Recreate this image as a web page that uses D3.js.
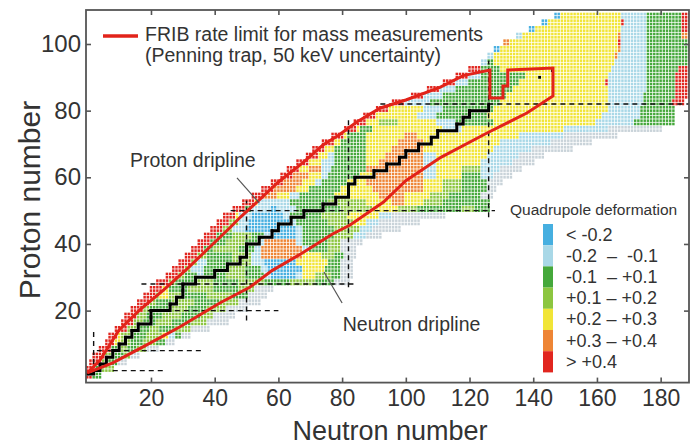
<!DOCTYPE html>
<html>
<head>
<meta charset="utf-8">
<script src="https://cdn.jsdelivr.net/npm/d3@7"></script>
<style>
body { margin: 0; background: #fff; }
svg { display: block; font-family: "Liberation Sans", Arial, sans-serif; }
</style>
</head>
<body>
<div id="plot"></div>
<script>
'use strict';

// colour classes of the quadrupole deformation
const classCodes = ['B', 'L', 'G', 'H', 'Y', 'O', 'R', 'S'];
const classColors = ['#46afe0', '#a9d8e7', '#45a83b', '#8cc640', '#f1e537', '#ee8535', '#e1261f', '#c9d3d9'];
const legendLabels = ['< -0.2', '-0.2  \u2013  -0.1', '-0.1  \u2013 +0.1', '+0.1 \u2013 +0.2', '+0.2 \u2013 +0.3', '+0.3 \u2013 +0.4', '> +0.4'];

// nuclide rows, two proton numbers per band: runs are "<class><first N>", last run ends at bandMax
const bandZ = [0, 2, 4, 6, 8, 10, 12, 14, 16, 18, 20, 22, 24, 26, 28, 30, 32, 34, 36, 38,
  40, 42, 44, 46, 48, 50, 52, 54, 56, 58, 60, 62, 64, 66, 68, 70, 72, 74, 76, 78,
  80, 82, 84, 86, 88, 90, 92, 94, 96, 98, 100, 102, 104, 106, 108];
const bandMax = [4, 8, 12, 16, 22, 27, 32, 38, 44, 46, 50, 54, 56, 58, 82, 83, 83, 83, 84, 84,
  86, 92, 98, 104, 112, 126, 126, 127, 128, 130, 133, 136, 140, 143, 152, 158, 166, 180, 184, 184,
  184, 187, 189, 189, 189, 189, 189, 189, 189, 189, 189, 189, 189, 189, 189];
const bandRuns = [
  'R0 G2',
  'R0 G3 H5',
  'R1 H5 G7 S10',
  'R2 H6 G8 H12 S14',
  'R4 G8 H10 G13 H16 S19',
  'R6 Y9 H11 G14 H18 G22 S25',
  'R7 Y10 H11 G15 H19 Y24 L26 G28 S30',
  'R9 H13 G16 H20 G23 H28 S33',
  'R11 H15 G18 H22 G27 H33 S38',
  'R12 H16 G19 H24 G30 H36 S40',
  'R14 H18 G20 H26 G32 H38 S44',
  'R16 H20 G22 H27 G34 H42 S48',
  'R18 H22 Y23 H26 G30 H38 G46 S51',
  'R20 Y24 G26 H32 G40 H48 S53',
  'R22 H26 G28 H34 G40 H48 G56 H64 G72 S78',
  'R25 H29 G31 L35 G37 H44 G50 L56 B58 L66 Y68 H72 G77 S80',
  'R27 H31 L33 G37 H44 G50 L55 B57 Y68 G75 S80',
  'R29 H33 L35 G38 H46 L52 B56 Y66 G76 S80',
  'R31 H35 G38 H46 L52 O55 Y68 H74 G78 S81',
  'R33 G37 H40 G48 L53 O55 L68 G70 H76 S80',
  'R35 G39 H44 G50 L54 O56 L66 G68 H76 S80',
  'R37 G41 H46 G52 L56 B58 L66 G68 H78 L84 S88',
  'R39 H43 L46 B50 L66 G68 H78 L86 S90',
  'R41 H45 L48 B51 L64 G66 H76 Y84 L88 S92',
  'R43 Y47 L48 B52 L62 G64 H74 Y82 L92 S96',
  'R46 G50 L52 B58 L60 G66 H80 Y90 H98 G104 H118 G122',
  'R49 Y53 L54 G64 H76 Y88 O96 Y100 H106 G112',
  'R52 O56 Y60 L64 G67 Y78 O92 Y100 H108 G114 S124',
  'R55 O59 Y66 G70 Y80 O90 Y106 H112 G118 S126',
  'R58 O62 Y68 L72 G74 Y82 O88 Y106 H112 G118 S126',
  'R61 O65 Y70 L74 G76 Y86 O90 L106 Y110 G118 L124 S128',
  'R63 Y67 O70 L74 G77 O88 L106 Y110 H118 L124 S130',
  'R66 Y70 L74 G78 Y88 O92 L106 Y110 L124 S134',
  'R69 Y73 L76 G78 Y88 O94 L106 Y110 L126 S136',
  'R71 Y75 G78 Y88 O96 Y106 L128 S140',
  'R74 Y78 G80 Y88 O98 Y106 L130 S146',
  'R77 Y81 G82 Y88 O100 Y104 L136 S150',
  'R81 Y85 G86 Y90 L112 Y118 L150 S164',
  'R84 Y88 H92 Y98 L110 G116 Y128 L160 G172',
  'R87 Y91 L104 G110 Y126 L162 G174',
  'R91 Y95 L106 G112 Y128 L164 G174',
  'R96 L100 G108 Y130 L164 G175 R184',
  'R102 L106 G112 Y132 L164 G175 R185',
  'R107 L111 G116 Y134 L164 G176 R185',
  'R112 L116 G120 Y136 R163 L164 G176 R185',
  'R116 L120 G124 Y138 L164 G176 R185',
  'R120 G124 Y130 L165 G176 R186',
  'L124 G126 Y128 L166 G176',
  'L126 Y128 O166 L167 G176',
  'B128 Y130 O167 L168 G176',
  'O131 Y133 R167 L168 G176',
  'L135 Y137 O167 L168 G176 O187',
  'B139 Y141 L168 G176 R187',
  'B143 Y145 R168 L169 G176 R187',
  'B147 Y149 L168 G176 R187'
];

// valley of stability (N, Z)
const stableN = [0, 2, 4, 6, 8, 10, 12, 14, 16, 20, 20, 26, 28, 30, 30, 34, 40, 44, 48, 50, 50, 54, 58, 60, 64, 68, 74, 78, 82, 82, 84, 90, 94, 98, 100, 104, 108, 110, 116, 118, 120, 126];
const stableZ = [1, 2, 4, 6, 8, 10, 12, 14, 16, 18, 20, 22, 24, 26, 28, 30, 32, 34, 36, 38, 40, 42, 44, 46, 48, 50, 52, 54, 56, 58, 60, 62, 64, 66, 68, 70, 72, 74, 76, 78, 80, 82];
const stableExtraN = [142, 146];
const stableExtraZ = [90, 92];

// FRIB rate limit contour (N, Z)
const fribN = [0, 4, 10, 16.5, 24, 31, 37.5, 45, 48, 54, 60, 68, 74, 79, 84.6, 92, 100, 110.7, 118, 126.4,
  126.4, 130.5, 130.5, 132, 132, 146.2, 146.2, 138, 125.5, 111, 100, 93, 82.5, 77, 67, 58, 51, 41.6, 29, 17.5, 8, 0];
const fribZ = [1.3, 5.2, 14.2, 20.2, 26.2, 32.2, 38.2, 45.1, 48, 53.2, 58.6, 64.6, 69.7, 72.7, 76.6, 80.8, 83.2, 87, 90.5, 92.2,
  83.8, 83.8, 87.4, 87.4, 92.2, 92.8, 84.4, 79.3, 73.3, 66, 59, 52.6, 45.7, 43, 37, 32, 27, 22.3, 15.1, 9.1, 4.3, 1.3];

// magic number guide lines
const magicZ = [2, 8, 20, 28, 50, 82];
const magicZfrom = [8, 3, 19, 17, 45, 92];
const magicZto = [24, 36, 60, 84, 128, 189];
const magicN = [2, 50, 82, 126];
const magicNfrom = [4, 17, 27, 48];
const magicNto = [14, 53, 78, 95];

const xTicks = [20, 40, 60, 80, 100, 120, 140, 160, 180];
const yTicks = [20, 40, 60, 80, 100];

const width = 690, height = 446;
const x = d3.scaleLinear().domain([-0.4, 188.9]).range([86, 689]);
const y = d3.scaleLinear().domain([-1.6, 110.2]).range([382.6, 10]);
const color = d3.scaleOrdinal().domain(classCodes).range(classColors);

const svg = d3.select('#plot').append('svg')
  .attr('width', width)
  .attr('height', height);

svg.append('defs').append('clipPath')
  .attr('id', 'clip')
  .append('rect')
  .attr('x', 86).attr('y', 10)
  .attr('width', 603).attr('height', 372.6);

// build the cell list from the bands
let cells = [];
bandZ.forEach(function(z0, i) {
  let parts = bandRuns[i].split(' ').map(s => ({c: s[0], n: +s.slice(1)}));
  for (let dz = 0; dz < 2; dz++) {
    parts.forEach(function(p, j) {
      let end = j < parts.length - 1 ? parts[j + 1].n - 1 : bandMax[i];
      for (let n = p.n; n <= end; n++)
        cells.push({n: n, z: z0 + dz, c: p.c});
    });
  }
});

const cw = x(1) - x(0);
const ch = y(0) - y(1);
const gap = 0.75;

let plot = svg.append('g').attr('clip-path', 'url(#clip)');

plot.append('g')
  .selectAll('rect')
  .data(cells)
  .enter()
  .append('rect')
  .attr('x', d => x(d.n - 0.5) + gap / 2)
  .attr('y', d => y(d.z + 0.5) + gap / 2)
  .attr('width', cw - gap)
  .attr('height', ch - gap)
  .attr('fill', d => color(d.c));

// magic numbers
let dash = plot.append('g')
  .attr('stroke', '#111')
  .attr('stroke-width', 1.4)
  .attr('stroke-dasharray', '5,4');
magicZ.forEach(function(z, i) {
  dash.append('line')
    .attr('x1', x(magicZfrom[i])).attr('x2', x(magicZto[i]))
    .attr('y1', y(z)).attr('y2', y(z));
});
magicN.forEach(function(n, i) {
  dash.append('line')
    .attr('x1', x(n)).attr('x2', x(n))
    .attr('y1', y(magicNfrom[i])).attr('y2', y(magicNto[i]));
});

// stable nuclei
let stable = stableN.map((n, i) => [n, stableZ[i]]);
let stepLine = d3.line()
  .x(d => x(d[0]))
  .y(d => y(d[1]))
  .curve(d3.curveStepAfter);
plot.append('path')
  .attr('d', stepLine(stable))
  .attr('fill', 'none')
  .attr('stroke', '#000')
  .attr('stroke-width', 3);
plot.append('g')
  .selectAll('rect')
  .data(stable.concat(stableExtraN.map((n, i) => [n, stableExtraZ[i]])))
  .enter()
  .append('rect')
  .attr('x', d => x(d[0]) - 1.4)
  .attr('y', d => y(d[1]) - 1.4)
  .attr('width', 2.8)
  .attr('height', 2.8)
  .attr('fill', '#000');

// FRIB contour
let frib = d3.line()
  .x((d, i) => x(d))
  .y((d, i) => y(fribZ[i]));
plot.append('path')
  .attr('d', frib(fribN) + 'Z')
  .attr('fill', 'none')
  .attr('stroke', '#e2231a')
  .attr('stroke-width', 3)
  .attr('stroke-linejoin', 'miter');

// axes, ticks pointing inwards on all four sides
let axisColor = '#555';
function styleAxis(g, fontSize) {
  g.select('.domain').remove();
  g.selectAll('.tick line').attr('stroke', axisColor).attr('stroke-width', 1.6);
  g.selectAll('.tick text').attr('fill', '#333').attr('font-size', fontSize + 'px');
}
svg.append('g')
  .attr('transform', `translate(0, ${y.range()[0]})`)
  .call(d3.axisBottom(x).tickValues(xTicks).tickSize(-5).tickPadding(7).tickFormat(d3.format('d')))
  .call(g => styleAxis(g, 23));
svg.append('g')
  .attr('transform', `translate(0, ${y.range()[1]})`)
  .call(d3.axisTop(x).tickValues(xTicks).tickSize(-5).tickFormat(''))
  .call(g => styleAxis(g, 0));
svg.append('g')
  .attr('transform', `translate(${x.range()[0]}, 0)`)
  .call(d3.axisLeft(y).tickValues(yTicks).tickSize(-5).tickPadding(5).tickFormat(d3.format('d')))
  .call(g => styleAxis(g, 24));
svg.append('g')
  .attr('transform', `translate(${x.range()[1]}, 0)`)
  .call(d3.axisRight(y).tickValues(yTicks).tickSize(-5).tickFormat(''))
  .call(g => styleAxis(g, 0));
svg.append('rect')
  .attr('x', x.range()[0]).attr('y', y.range()[1])
  .attr('width', x.range()[1] - x.range()[0])
  .attr('height', y.range()[0] - y.range()[1])
  .attr('fill', 'none')
  .attr('stroke', axisColor)
  .attr('stroke-width', 1.8);

svg.append('text')
  .attr('x', 390).attr('y', 440)
  .attr('text-anchor', 'middle')
  .attr('font-size', '27px')
  .attr('fill', '#333')
  .text('Neutron number');
svg.append('text')
  .attr('transform', 'translate(40, 200) rotate(-90)')
  .attr('text-anchor', 'middle')
  .attr('font-size', '30px')
  .attr('fill', '#333')
  .text('Proton number');

// FRIB legend
svg.append('line')
  .attr('x1', 103).attr('x2', 138)
  .attr('y1', 36).attr('y2', 36)
  .attr('stroke', '#e2231a')
  .attr('stroke-width', 3.5);
svg.append('text')
  .attr('x', 145).attr('y', 41)
  .attr('font-size', '19.5px')
  .attr('fill', '#333')
  .text('FRIB rate limit for mass measurements');
svg.append('text')
  .attr('x', 145).attr('y', 62)
  .attr('font-size', '19.5px')
  .attr('fill', '#333')
  .text('(Penning trap, 50 keV uncertainty)');

// dripline annotations
svg.append('text')
  .attr('x', x(13.4)).attr('y', y(63.1))
  .attr('font-size', '19.5px')
  .attr('fill', '#333')
  .text('Proton dripline');
svg.append('line')
  .attr('x1', x(47)).attr('y1', y(59.8))
  .attr('x2', x(54)).attr('y2', y(52.3))
  .attr('stroke', '#555').attr('stroke-width', 1.2);
svg.append('text')
  .attr('x', x(80.2)).attr('y', y(13.9))
  .attr('font-size', '19.5px')
  .attr('fill', '#333')
  .text('Neutron dripline');
svg.append('line')
  .attr('x1', x(74.3)).attr('y1', y(31.6))
  .attr('x2', x(80)).attr('y2', y(22.3))
  .attr('stroke', '#555').attr('stroke-width', 1.2);

// deformation legend
let leg = svg.append('g');
leg.append('text')
  .attr('x', 510).attr('y', 215)
  .attr('font-size', '15.5px')
  .attr('fill', '#333')
  .text('Quadrupole deformation');
let segH = 21.2;
leg.selectAll('rect')
  .data(legendLabels)
  .enter()
  .append('rect')
  .attr('x', 543)
  .attr('y', (d, i) => 224 + i * segH)
  .attr('width', 10)
  .attr('height', segH)
  .attr('fill', (d, i) => classColors[i]);
leg.selectAll('text.lab')
  .data(legendLabels)
  .enter()
  .append('text')
  .attr('class', 'lab')
  .attr('x', 566)
  .attr('y', (d, i) => 224 + i * segH + segH / 2 + 6)
  .attr('font-size', '18px')
  .attr('fill', '#333')
  .style('white-space', 'pre')
  .text(d => d);
</script>
</body>
</html>
